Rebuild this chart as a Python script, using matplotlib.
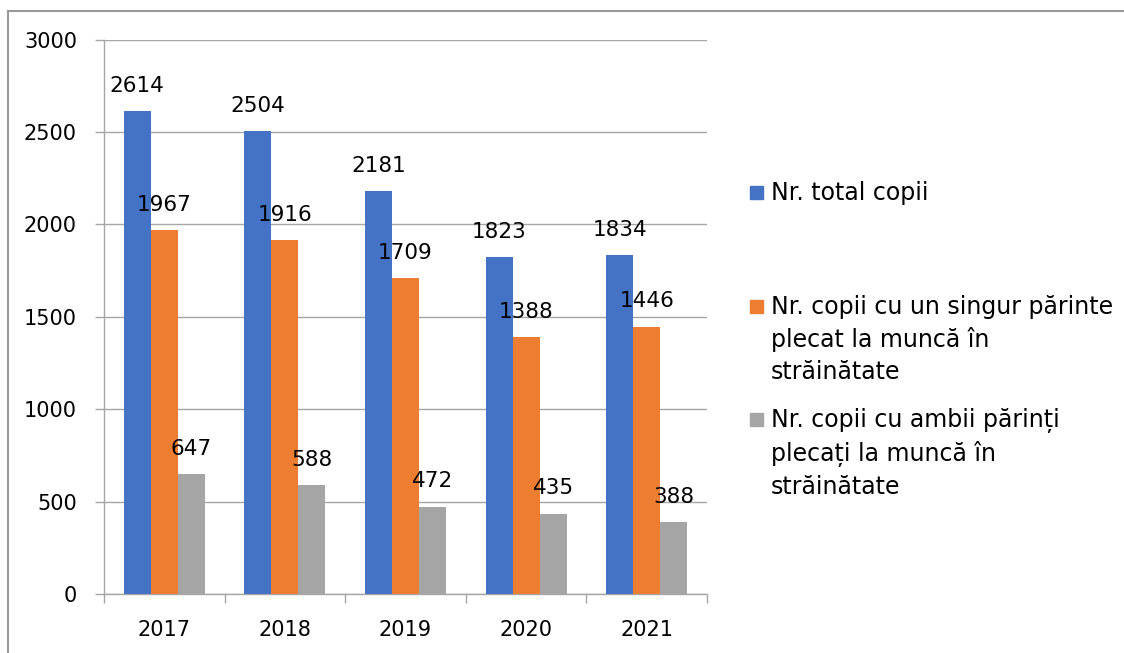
import numpy as np
import matplotlib.pyplot as plt
from matplotlib.lines import Line2D
from matplotlib.patches import Rectangle

# date
years = ['2017', '2018', '2019', '2020', '2021']
total = [2614, 2504, 2181, 1823, 1834]
un_parinte = [1967, 1916, 1709, 1388, 1446]
ambii_parinti = [647, 588, 472, 435, 388]
labels = ['Nr. total copii',
          'Nr. copii cu un singur părinte\nplecat la muncă în\nstrăinătate',
          'Nr. copii cu ambii părinți\nplecați la muncă în\nstrăinătate']
colors = ['#4472C4', '#ED7D31', '#A5A5A5']

W, H = 1124, 653
fig = plt.figure(figsize=(W / 100, H / 100), dpi=100)
ax = fig.add_axes([104 / W, 1 - 594 / H, (707 - 104) / W, (594 - 39.5) / H])

x = np.arange(len(years))
bw = 0.224
series = [total, un_parinte, ambii_parinti]
for i, (vals, c) in enumerate(zip(series, colors)):
    pos = x + (i - 1) * bw
    ax.bar(pos, vals, width=bw, color=c, zorder=3)
    for p, v in zip(pos, vals):
        ax.annotate(str(v), (p, v), xytext=(0, 11), textcoords='offset points',
                    ha='center', va='bottom', fontsize=15.5, color='#000000', zorder=4)

ax.set_xlim(-0.5, len(years) - 0.5)
ax.set_ylim(0, 3000)
ax.set_yticks(range(0, 3001, 500))
ax.set_xticks(x)
ax.set_xticklabels(years)
ax.set_xticks(np.arange(-0.5, len(years)), minor=True)
ax.tick_params(axis='x', which='major', length=0, pad=19, labelsize=15)
ax.tick_params(axis='x', which='minor', length=6.5, color='#A6A6A6', width=1)
ax.tick_params(axis='y', length=6.5, color='#A6A6A6', width=1, pad=13, labelsize=15)
ax.grid(axis='y', color='#A6A6A6', linewidth=1, zorder=0)
for s in ['top', 'right']:
    ax.spines[s].set_visible(False)
for s in ['left', 'bottom']:
    ax.spines[s].set_color('#A6A6A6')
    ax.spines[s].set_linewidth(1)

# legenda
leg_y = [193, 307, 420]
for lab, c, yy in zip(labels, colors, leg_y):
    fig.patches.append(Rectangle((750 / W, 1 - (yy + 6) / H), 13 / W, 13 / H,
                                 transform=fig.transFigure, color=c))
    fig.text(771 / W, 1 - (yy - 12) / H, lab, ha='left', va='top', fontsize=17,
             linespacing=1.4, color='#000000')

# chenar
fig.lines.append(Line2D([8 / W, 1], [1 - 11 / H, 1 - 11 / H], transform=fig.transFigure,
                        color='#999999', linewidth=1.5))
fig.lines.append(Line2D([8 / W, 8 / W], [1 - 11 / H, 0], transform=fig.transFigure,
                        color='#999999', linewidth=1.5))

fig.savefig('out.png', dpi=100)
